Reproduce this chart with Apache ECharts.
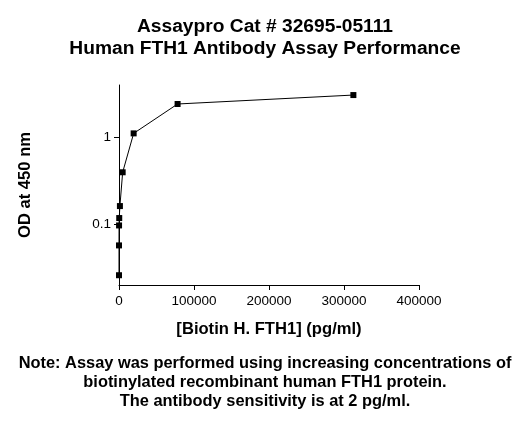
<!DOCTYPE html>
<html>
<head>
<meta charset="utf-8">
<script src="https://cdn.jsdelivr.net/npm/echarts@6/dist/echarts.min.js"></script>
<style>html,body{margin:0;padding:0;background:#fff}#c{width:530px;height:425px}</style>
</head>
<body>
<div id="c"></div>
<script>
const titleLines = ['Assaypro Cat # 32695-05111', 'Human FTH1 Antibody Assay Performance'];
const noteLines = ['Note: Assay was performed using increasing concentrations of', 'biotinylated recombinant human FTH1 protein.', 'The antibody sensitivity is at 2 pg/ml.'];
const xAxisName = '[Biotin H. FTH1] (pg/ml)';
const yAxisName = 'OD at 450 nm';
const concentrations = [312500, 78125, 19531, 4883, 1221, 305, 76, 19, 5];
const odValues = [3.01, 2.38, 1.10, 0.396, 0.163, 0.119, 0.098, 0.058, 0.0265];
const xTicks = [0, 100000, 200000, 300000, 400000];
const yTicks = [0.1, 1];

const font = 'Liberation Sans, Arial, sans-serif';
const chart = echarts.init(document.getElementById('c'));
chart.setOption({
  animation: false,
  backgroundColor: '#fff',
  title: [
    {text: titleLines.join('\n'), left: 'center', top: 11,
     textStyle: {fontFamily: font, fontSize: 19.2, fontWeight: 'bold', color: '#000', lineHeight: 22}},
    {text: noteLines.join('\n'), left: 'center', top: 349,
     textStyle: {fontFamily: font, fontSize: 16.4, fontWeight: 'bold', color: '#000', lineHeight: 19}}
  ],
  grid: {left: 119, right: 111, top: 85, bottom: 140, containLabel: false},
  xAxis: {
    type: 'value', min: xTicks[0], max: xTicks[xTicks.length - 1], interval: 100000,
    name: xAxisName, nameLocation: 'middle', nameGap: 36,
    nameTextStyle: {fontFamily: font, fontSize: 16.6, fontWeight: 'bold', color: '#000'},
    axisLine: {show: true, onZero: false, lineStyle: {color: '#000', width: 1}},
    axisTick: {show: true, length: 5, lineStyle: {color: '#000'}},
    axisLabel: {fontFamily: font, fontSize: 13.5, color: '#000', margin: 9, formatter: v => String(v)},
    splitLine: {show: false}
  },
  yAxis: {
    type: 'log', logBase: 10, min: 0.0205, max: 3.92,
    name: yAxisName, nameLocation: 'middle', nameGap: 85,
    nameTextStyle: {fontFamily: font, fontSize: 16.6, fontWeight: 'bold', color: '#000'},
    axisLine: {show: true, lineStyle: {color: '#000', width: 1}},
    axisTick: {show: true, length: 5, lineStyle: {color: '#000'}, customValues: yTicks},
    axisLabel: {fontFamily: font, fontSize: 13.5, color: '#000', margin: 8, customValues: yTicks,
      formatter: v => String(v)},
    splitLine: {show: false}
  },
  series: [{
    type: 'line',
    data: concentrations.map((c, i) => [c, odValues[i]]),
    symbol: 'rect', symbolSize: 6,
    itemStyle: {color: '#000'},
    lineStyle: {color: '#000', width: 1},
    clip: false
  }]
});
</script>
</body>
</html>
